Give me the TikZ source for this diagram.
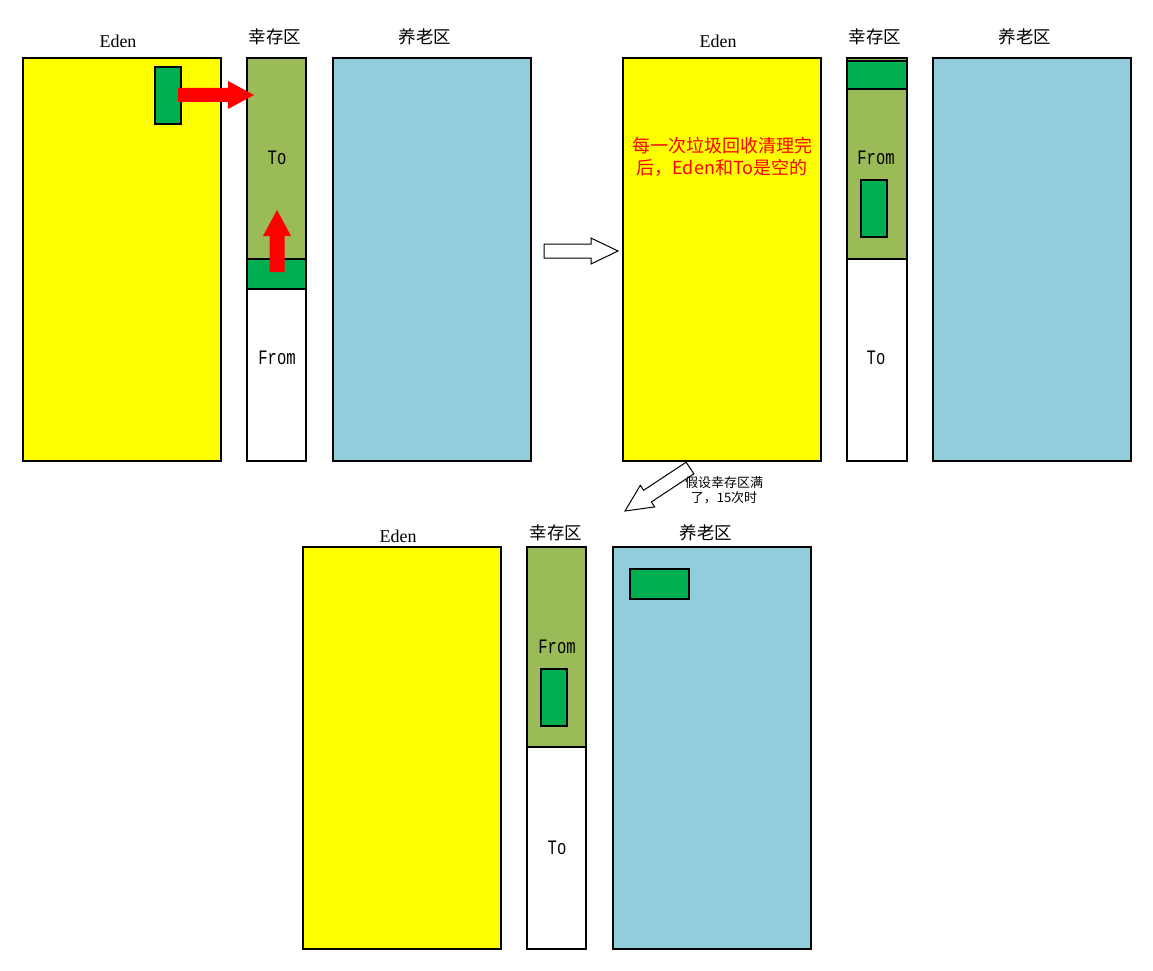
\documentclass[tikz,border=0pt]{standalone}
\usepackage{fontspec}
\setmainfont{Liberation Serif}
\newfontfamily\cjk{Noto Sans CJK SC}
\newfontfamily\mono[FakeStretch=0.76]{Liberation Mono}
\definecolor{eden}{HTML}{FFFF00}
\definecolor{surv}{HTML}{9BBB59}
\definecolor{obj}{HTML}{00B050}
\definecolor{old}{HTML}{92CDDC}
\definecolor{arr}{HTML}{FF0000}
\tikzset{
  box/.style={draw=black,line width=1.2pt},
  lab/.style={inner sep=0pt,anchor=center,font=\fontsize{18}{21}\selectfont},
  cjklab/.style={inner sep=0pt,anchor=center,font=\cjk\fontsize{17.5}{21}\selectfont},
  monolab/.style={inner sep=0pt,anchor=center,font=\mono\fontsize{20.5}{22}\selectfont},
  redarrow/.style={fill=arr,draw=none},
  hollow/.style={draw=black,line width=1pt,fill=white,line join=miter}
}
\begin{document}
\begin{tikzpicture}[x=1pt,y=-1pt]
\useasboundingbox (0,0) rectangle (1153,971);
\fill[white] (0,0) rectangle (1153,971);

% ===== Panel 1 =====
\fill[eden] (23,58) rectangle (221,461);
\draw[box] (23,58) rectangle (221,461);
\fill[white] (247,58) rectangle (306,461);
\fill[surv] (247,58) rectangle (306,259);
\draw[box,fill=obj] (247,259) rectangle (306,289);
\draw[box] (247,58) rectangle (306,461);
\fill[old] (333,58) rectangle (531,461);
\draw[box] (333,58) rectangle (531,461);
\draw[box,fill=obj] (155,67) rectangle (181,124);
% red arrows
\path[redarrow] (178,88) -- (228,88) -- (228,81) -- (254,95) -- (228,109) -- (228,102) -- (178,102) -- cycle;
\path[redarrow] (269.5,272) -- (269.5,236) -- (263,236) -- (277,210) -- (291,236) -- (284.5,236) -- (284.5,272) -- cycle;
\node[lab] (eden1) at (118,41) {Eden};
\node[cjklab] (surv1) at (275,37) {幸存区};
\node[cjklab] (old1) at (425,37) {养老区};
\node[monolab] (to1) at (277,158) {To};
\node[monolab] (from1) at (277,358) {From};

% ===== transition arrow =====
\draw[hollow] (544,244) -- (591,244) -- (591,238) -- (618,251) -- (591,264) -- (591,258) -- (544,258) -- cycle;

% ===== Panel 2 =====
\fill[eden] (623,58) rectangle (821,461);
\draw[box] (623,58) rectangle (821,461);
\fill[white] (847,58) rectangle (907,461);
\fill[surv] (847,58) rectangle (907,259);
\draw[box,fill=obj] (847,61) rectangle (907,89);
\draw[box,fill=obj] (861,180) rectangle (887,237);
\draw[box] (847,259) -- (907,259);
\draw[box] (847,58) rectangle (907,461);
\fill[old] (933,58) rectangle (1131,461);
\draw[box] (933,58) rectangle (1131,461);
\node[lab] (eden2) at (718,41) {Eden};
\node[cjklab] (surv2) at (875,37) {幸存区};
\node[cjklab] (old2) at (1025,37) {养老区};
\node[monolab] (from2) at (876,158) {From};
\node[monolab] (to2) at (876,358) {To};
\node[inner sep=0pt,anchor=center,text=arr,align=center,font=\cjk\fontsize{18}{21.5}\selectfont] (note) at (722,157) {每一次垃圾回收清理完\\后，Eden和To是空的};

% ===== diagonal arrow =====
\draw[hollow] (693.9,473.8) -- (651.4,501.9) -- (654.7,506.9) -- (625,511) -- (640.3,485.3) -- (643.6,490.3) -- (686.1,462.2) -- cycle;
\node[inner sep=0pt,anchor=center,align=center,font=\cjk\fontsize{13}{15}\selectfont] (cond) at (724,490) {假设幸存区满\\了，15次时};

% ===== Panel 3 =====
\fill[eden] (303,547) rectangle (501,949);
\draw[box] (303,547) rectangle (501,949);
\fill[white] (527,547) rectangle (586,949);
\fill[surv] (527,547) rectangle (586,747);
\draw[box,fill=obj] (541,669) rectangle (567,726);
\draw[box] (527,747) -- (586,747);
\draw[box] (527,547) rectangle (586,949);
\fill[old] (613,547) rectangle (811,949);
\draw[box] (613,547) rectangle (811,949);
\draw[box,fill=obj] (630,569) rectangle (689,599);
\node[lab] (eden3) at (398,536) {Eden};
\node[cjklab] (surv3) at (556,533) {幸存区};
\node[cjklab] (old3) at (706,533) {养老区};
\node[monolab] (from3) at (557,647) {From};
\node[monolab] (to3) at (557,848) {To};
\end{tikzpicture}
\end{document}
